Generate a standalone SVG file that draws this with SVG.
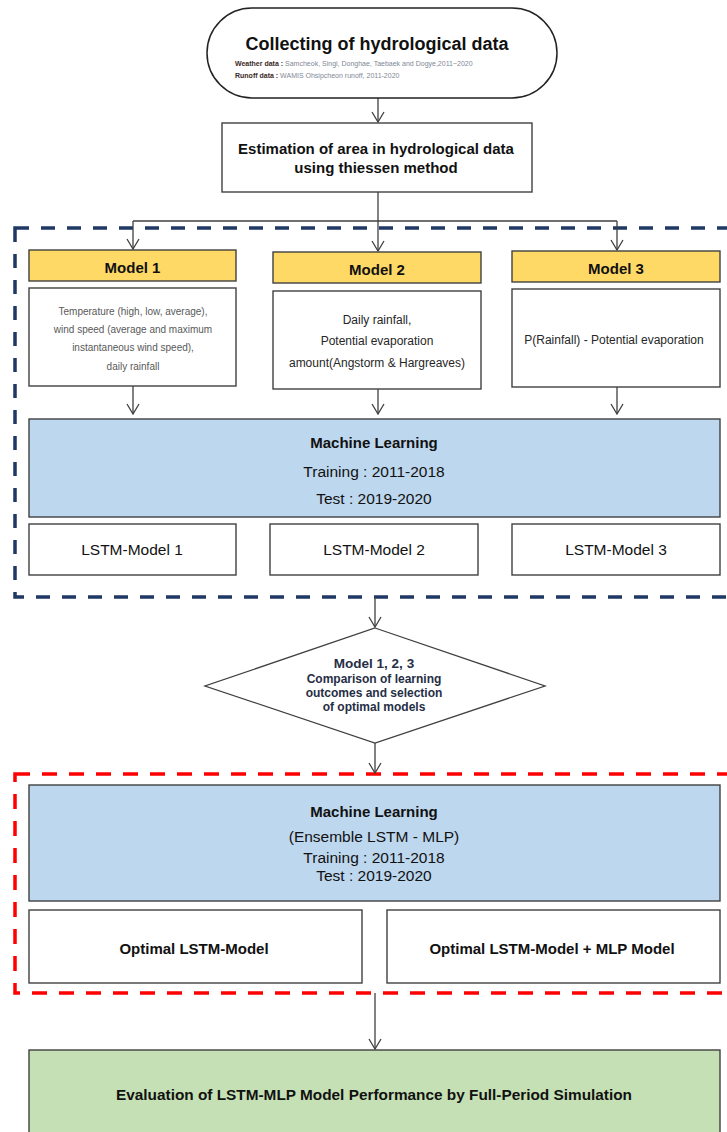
<svg xmlns="http://www.w3.org/2000/svg" width="727" height="1132" viewBox="0 0 727 1132">
<defs>
<marker id="arr" viewBox="0 0 12 14" refX="11" refY="7" markerWidth="12" markerHeight="14" markerUnits="userSpaceOnUse" orient="auto">
<path d="M1,1 L11,7 L1,13" fill="none" stroke="#404040" stroke-width="1.3"/>
</marker>
<style>
text{font-family:"Liberation Sans",Arial,sans-serif;fill:#111;text-anchor:middle}
.box{fill:#fff;stroke:#404040;stroke-width:1.4}
.hdr{fill:#FFD966;stroke:#404040;stroke-width:1.4}
.ml{fill:#BDD7EE;stroke:#404040;stroke-width:1.4}
.grn{fill:#C5E0B4;stroke:#404040;stroke-width:1.4}
.b{font-weight:bold}
.con{fill:none;stroke:#404040;stroke-width:1.3}
.arrow{fill:none;stroke:#404040;stroke-width:1.3;marker-end:url(#arr)}
.navy{fill:none;stroke:#1F3864;stroke-width:3.5;stroke-dasharray:14 12}
.red{fill:none;stroke:#FF0000;stroke-width:3.5;stroke-dasharray:15 12}
.sm{font-size:7px;text-anchor:start;fill:#7F8896}
.lbl{font-weight:bold;fill:#3B2A1E}
.desc1{font-size:10px;fill:#595959}
.desc{font-size:12px;fill:#262626}
.dia{fill:#262E45;font-weight:bold}
</style>
</defs>

<g id="group-navy">
<rect class="navy" x="15" y="228" width="730" height="369"/>
</g>
<g id="group-red">
<rect class="red" x="15" y="774" width="730" height="219"/>
</g>

<g id="connectors">
<line class="arrow" x1="378" y1="98" x2="378" y2="122"/>
<polyline class="con" points="378,192 378,221"/>
<polyline class="con" points="133,221 617,221"/>
<line class="arrow" x1="133" y1="221" x2="133" y2="249"/>
<line class="arrow" x1="378" y1="221" x2="378" y2="251"/>
<line class="arrow" x1="617" y1="221" x2="617" y2="250"/>
<line class="arrow" x1="133" y1="386" x2="133" y2="414"/>
<line class="arrow" x1="378" y1="389" x2="378" y2="414"/>
<line class="arrow" x1="617" y1="387" x2="617" y2="414"/>
<line class="arrow" x1="375" y1="597" x2="375" y2="627"/>
<line class="arrow" x1="375" y1="743" x2="375" y2="773"/>
<line class="arrow" x1="375" y1="993" x2="375" y2="1049"/>
</g>

<g id="node-collect">
<rect x="207" y="8" width="350" height="90" rx="45" ry="45" fill="#fff" stroke="#222" stroke-width="1.5"/>
<text class="b" x="377" y="50" font-size="18">Collecting of hydrological data</text>
<text class="sm" x="235" y="66"><tspan class="lbl">Weather data :</tspan> Samcheok, Singi, Donghae, Taebaek and Dogye,2011~2020</text>
<text class="sm" x="235" y="78"><tspan class="lbl">Runoff data :</tspan> WAMIS Ohsipcheon runoff, 2011-2020</text>
</g>

<g id="node-thiessen">
<rect class="box" x="222" y="123" width="310" height="69"/>
<text class="b" x="376" y="154" font-size="15">Estimation of area in hydrological data</text>
<text class="b" x="376" y="173" font-size="15">using thiessen method</text>
</g>

<g id="node-model1">
<rect class="hdr" x="29" y="250" width="207" height="31"/>
<text class="b" x="132.5" y="273" font-size="15">Model 1</text>
</g>
<g id="node-model2">
<rect class="hdr" x="273" y="252" width="208" height="31"/>
<text class="b" x="377" y="275" font-size="15">Model 2</text>
</g>
<g id="node-model3">
<rect class="hdr" x="512" y="251" width="208" height="31"/>
<text class="b" x="616" y="274" font-size="15">Model 3</text>
</g>

<g id="node-desc1">
<rect class="box" x="29" y="288" width="207" height="98"/>
<text class="desc1" x="133" y="315">Temperature (high, low, average),</text>
<text class="desc1" x="133" y="333">wind speed (average and maximum</text>
<text class="desc1" x="133" y="351">instantaneous  wind speed),</text>
<text class="desc1" x="133" y="370">daily rainfall</text>
</g>
<g id="node-desc2">
<rect class="box" x="273" y="291" width="208" height="98"/>
<text class="desc" x="377" y="324">Daily rainfall,</text>
<text class="desc" x="377" y="345">Potential evaporation</text>
<text class="desc" x="377" y="367">amount(Angstorm &amp; Hargreaves)</text>
</g>
<g id="node-desc3">
<rect class="box" x="512" y="289" width="208" height="98"/>
<text class="desc" x="614" y="344">P(Rainfall) - Potential evaporation</text>
</g>

<g id="node-ml1">
<rect class="ml" x="29" y="419" width="691" height="98"/>
<text class="b" x="374" y="448" font-size="15">Machine Learning</text>
<text x="374" y="477" font-size="15.5">Training : 2011-2018</text>
<text x="374" y="504" font-size="15.5">Test : 2019-2020</text>
</g>

<g id="node-lstm1">
<rect class="box" x="29" y="524" width="207" height="51"/>
<text x="132" y="555" font-size="15.5">LSTM-Model 1</text>
</g>
<g id="node-lstm2">
<rect class="box" x="270" y="524" width="208" height="51"/>
<text x="374" y="555" font-size="15.5">LSTM-Model 2</text>
</g>
<g id="node-lstm3">
<rect class="box" x="512" y="524" width="208" height="51"/>
<text x="616" y="555" font-size="15.5">LSTM-Model 3</text>
</g>

<g id="node-compare">
<polygon points="375,628 545,686 375,743 205,686" fill="#fff" stroke="#404040" stroke-width="1.3"/>
<text class="dia" x="374" y="668" font-size="13.5">Model 1, 2, 3</text>
<text class="dia" x="374" y="683" font-size="12">Comparison of learning</text>
<text class="dia" x="374" y="697" font-size="12">outcomes and selection</text>
<text class="dia" x="374" y="711" font-size="12">of optimal models</text>
</g>

<g id="node-ml2">
<rect class="ml" x="29" y="785" width="691" height="116"/>
<text class="b" x="374" y="817" font-size="15">Machine Learning</text>
<text x="374" y="842" font-size="15.5">(Ensemble LSTM - MLP)</text>
<text x="374" y="863" font-size="15.5">Training : 2011-2018</text>
<text x="374" y="881" font-size="15.5">Test : 2019-2020</text>
</g>

<g id="node-opt1">
<rect class="box" x="29" y="910" width="333" height="73"/>
<text class="b" x="194" y="954" font-size="15">Optimal LSTM-Model</text>
</g>
<g id="node-opt2">
<rect class="box" x="387" y="910" width="333" height="73"/>
<text class="b" x="552" y="954" font-size="15">Optimal LSTM-Model + MLP Model</text>
</g>

<g id="node-eval">
<rect class="grn" x="29" y="1050" width="691" height="100"/>
<text class="b" x="374" y="1100" font-size="14" textLength="516" lengthAdjust="spacingAndGlyphs">Evaluation of LSTM-MLP Model Performance by Full-Period Simulation</text>
</g>
</svg>
